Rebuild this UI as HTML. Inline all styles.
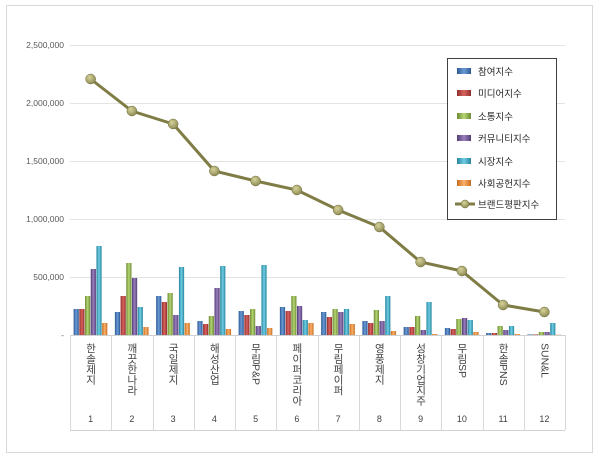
<!DOCTYPE html>
<html><head><meta charset="utf-8"><style>
body{margin:0;background:#fff;width:600px;height:459px;overflow:hidden;font-family:"Liberation Sans","Noto Sans CJK KR",sans-serif}
</style></head><body>
<svg width="600" height="459" xmlns="http://www.w3.org/2000/svg" font-family="Liberation Sans, Noto Sans CJK KR, sans-serif">
<defs>
<linearGradient id="b0" x1="0" x2="1"><stop offset="0" stop-color="#2c5a94"/><stop offset=".5" stop-color="#6a9ad6"/><stop offset="1" stop-color="#2c5a94"/></linearGradient>
<linearGradient id="b1" x1="0" x2="1"><stop offset="0" stop-color="#8f2e2b"/><stop offset=".5" stop-color="#d9625f"/><stop offset="1" stop-color="#8f2e2b"/></linearGradient>
<linearGradient id="b2" x1="0" x2="1"><stop offset="0" stop-color="#6c8a32"/><stop offset=".5" stop-color="#b5d674"/><stop offset="1" stop-color="#6c8a32"/></linearGradient>
<linearGradient id="b3" x1="0" x2="1"><stop offset="0" stop-color="#533d75"/><stop offset=".5" stop-color="#9a7fbf"/><stop offset="1" stop-color="#533d75"/></linearGradient>
<linearGradient id="b4" x1="0" x2="1"><stop offset="0" stop-color="#26849c"/><stop offset=".5" stop-color="#6fcde6"/><stop offset="1" stop-color="#26849c"/></linearGradient>
<linearGradient id="b5" x1="0" x2="1"><stop offset="0" stop-color="#c66c1e"/><stop offset=".5" stop-color="#fbb06a"/><stop offset="1" stop-color="#c66c1e"/></linearGradient>
<radialGradient id="m" cx=".4" cy=".35" r=".7"><stop offset="0" stop-color="#d6d39a"/><stop offset="1" stop-color="#8a8650"/></radialGradient>
</defs>
<rect x="6.5" y="5.5" width="586" height="447" fill="#fff" stroke="#d9d9d9"/>
<g stroke="#e3e3e3" stroke-width="1">
<line x1="70" y1="45.5" x2="565" y2="45.5"/><line x1="70" y1="103.5" x2="565" y2="103.5"/><line x1="70" y1="161.5" x2="565" y2="161.5"/><line x1="70" y1="219.5" x2="565" y2="219.5"/><line x1="70" y1="277.5" x2="565" y2="277.5"/>
</g>
<g font-size="8.5" fill="#595959" text-anchor="end">
<text x="64" y="48">2,500,000</text><text x="64" y="106">2,000,000</text><text x="64" y="164">1,500,000</text><text x="64" y="222">1,000,000</text><text x="64" y="280">500,000</text><text x="64" y="338">-</text>
</g>
<g id="bars"></g>
<g stroke="#d9d9d9" stroke-width="1" id="sep"></g>
<line x1="70" y1="335.5" x2="565" y2="335.5" stroke="#d0d0d0"/>
<line x1="70" y1="430.5" x2="565" y2="430.5" stroke="#d0d0d0"/>
<g id="labels" font-size="10.5" fill="#404040"></g>
<polyline id="ln" fill="none" stroke="#7f7c45" stroke-width="3"/>
<g id="mk"></g>
<rect x="447.5" y="58.5" width="109" height="161" fill="#fff" stroke="#404040"/>
<g font-size="9.5" fill="#262626">
<rect x="457" y="68" width="14" height="6" fill="url(#b0)"/><text x="478" y="75">참여지수</text>
<rect x="457" y="90" width="14" height="6" fill="url(#b1)"/><text x="478" y="97">미디어지수</text>
<rect x="457" y="113" width="14" height="6" fill="url(#b2)"/><text x="478" y="120">소통지수</text>
<rect x="457" y="135" width="14" height="6" fill="url(#b3)"/><text x="478" y="142">커뮤니티지수</text>
<rect x="457" y="158" width="14" height="6" fill="url(#b4)"/><text x="478" y="165">시장지수</text>
<rect x="457" y="180" width="14" height="6" fill="url(#b5)"/><text x="478" y="187">사회공헌지수</text>
<line x1="455" y1="204" x2="475" y2="204" stroke="#7f7c45" stroke-width="3"/><circle cx="465" cy="204" r="4" fill="url(#m)" stroke="#6f6c3c" stroke-width=".5"/><text x="478" y="208">브랜드평판지수</text>
</g>
</svg>
<script>
var H=[[26,26,39,66,89,12],[23,39,72,57,28,8],[39,33,42,20,68,12],[14,11,19,47,69,6],[24,20,26,9,70,7],[28,24,39,29,15,12],[23,18,26,23,26,11],[14,12,25,14,39,4],[8,8,19,5,33,1],[7,6,16,17,15,3],[2,2,9,5,9,1],[.6,.6,3,3,12,.3]];
var L=[79,111,124,171,181,190,210,227,262,271,305,312];
var names=["한솔제지","깨끗한나라","국일제지","해성산업","무림P&P","페이퍼코리아","무림페이퍼","영풍제지","성창기업지주","무림SP","한솔PNS","SUN&L"];
var ns="http://www.w3.org/2000/svg",w=495/12,bars=document.getElementById('bars'),sep=document.getElementById('sep'),lab=document.getElementById('labels'),mk=document.getElementById('mk'),pts=[];
function el(t,a,p){var e=document.createElementNS(ns,t);for(var k in a)e.setAttribute(k,a[k]);p.appendChild(e);return e}
for(var i=0;i<12;i++){var c=70+w*i+w/2;
for(var j=0;j<6;j++){var h=H[i][j];el('rect',{x:c-17+j*5.7,y:335-h,width:5.2,height:h,fill:'url(#b'+j+')'},bars)}
el('line',{x1:Math.round(70+w*i)+.5,y1:335,x2:Math.round(70+w*i)+.5,y2:430},sep);
var t=el('text',{x:c,y:343,'writing-mode':'tb','glyph-orientation-vertical':'0','letter-spacing':'0'},lab);t.style.writingMode='vertical-rl';t.style.textOrientation='mixed';t.textContent=names[i];
var n=el('text',{x:c,y:422,'text-anchor':'middle','font-size':'9'},lab);n.textContent=i+1;
pts.push(c+','+L[i]);}
el('line',{x1:565.5,y1:335,x2:565.5,y2:430},sep);
document.getElementById('ln').setAttribute('points',pts.join(' '));
for(var i=0;i<12;i++)el('circle',{cx:70+w*i+w/2,cy:L[i],r:5,fill:'url(#m)',stroke:'#6f6c3c','stroke-width':.5},mk);
</script>
</body></html>
